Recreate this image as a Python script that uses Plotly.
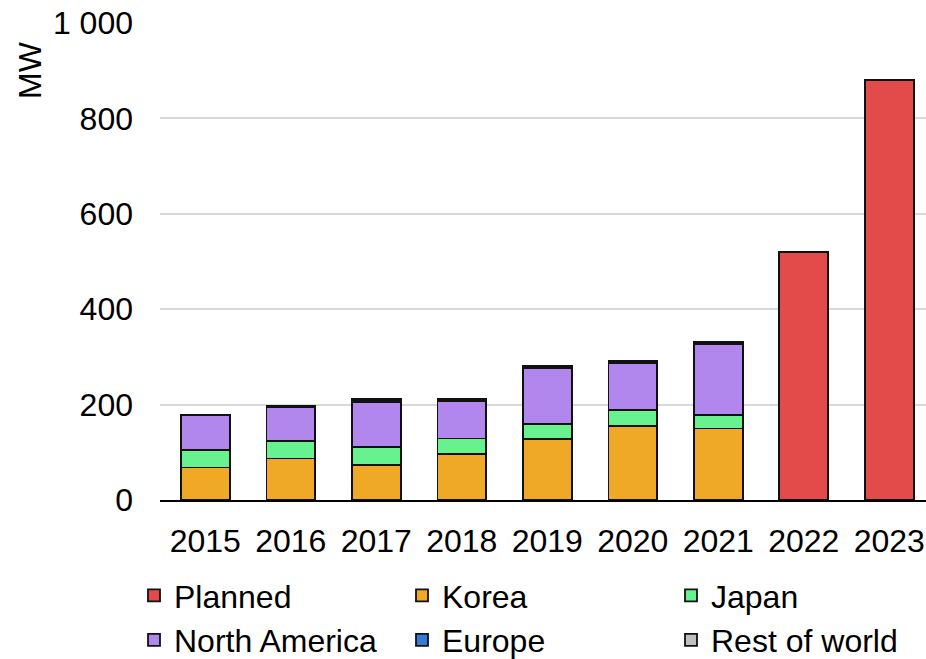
import plotly.graph_objects as go

years = ["2015", "2016", "2017", "2018", "2019", "2020", "2021", "2022", "2023"]

planned = [None, None, None, None, None, None, None, 520, 880]
korea = [68, 87, 73, 96, 128, 155, 150, None, None]
japan = [36, 37, 38, 33, 32, 33, 29, None, None]
north_america = [73, 70, 95, 79, 116, 98, 148, None, None]
europe = [1, 1, 3, 1, 3, 3, 1, None, None]
rest_of_world = [1, 2, 2, 2, 2, 2, 4, None, None]

# name, values, colour, legend column
series = [
    ("Planned", planned, "#E34B4A", "legend"),
    ("Korea", korea, "#F0A827", "legend2"),
    ("Japan", japan, "#67F28F", "legend3"),
    ("North America", north_america, "#B187EE", "legend"),
    ("Europe", europe, "#3A78D6", "legend2"),
    ("Rest of world", rest_of_world, "#BFBFBF", "legend3"),
]

FONT = "Liberation Sans, Arial, sans-serif"

fig = go.Figure()
for name, vals, color, leg in series:
    fig.add_trace(
        go.Bar(
            x=years,
            y=vals,
            name=name,
            legend=leg,
            marker=dict(color=color, line=dict(color="#111111", width=1.8)),
        )
    )


def legend_column(x_px):
    return dict(
        orientation="v",
        xref="container",
        yref="container",
        x=x_px / 926,
        y=1 - 568 / 659,
        xanchor="left",
        yanchor="top",
        traceorder="normal",
        font=dict(family=FONT, size=32),
        itemwidth=30,
        tracegroupgap=0,
        bgcolor="rgba(0,0,0,0)",
    )


fig.update_layout(
    barmode="stack",
    bargap=0.43,
    width=926,
    height=659,
    template="plotly_white",
    plot_bgcolor="white",
    paper_bgcolor="white",
    font=dict(family=FONT, size=32, color="#000000"),
    margin=dict(l=160, r=0, t=23, b=159, autoexpand=False),
    showlegend=True,
    legend=legend_column(134),
    legend2=legend_column(402),
    legend3=legend_column(671),
    annotations=[
        dict(
            text="MW",
            xref="paper",
            yref="paper",
            x=-130 / 766,
            y=0.9015,
            xanchor="center",
            yanchor="middle",
            textangle=-90,
            showarrow=False,
            font=dict(family=FONT, size=32),
        )
    ],
)
fig.update_xaxes(
    range=[-0.53, 8.43],
    showline=True,
    linecolor="#000000",
    linewidth=2,
    showgrid=False,
    ticks="",
    ticklabelstandoff=12,
    tickfont=dict(size=32),
    automargin=False,
)
fig.update_yaxes(
    range=[0, 1000],
    tickvals=[0, 200, 400, 600, 800, 1000],
    ticktext=["0", "200", "400", "600", "800", "1 000"],
    gridcolor="#D9D9D9",
    gridwidth=1.5,
    zeroline=False,
    ticks="",
    ticklabelstandoff=26,
    tickfont=dict(size=32),
    automargin=False,
)

fig.write_html(
    "out.html",
    config={"displayModeBar": False},
    post_script="document.body.style.margin='0';",
)
